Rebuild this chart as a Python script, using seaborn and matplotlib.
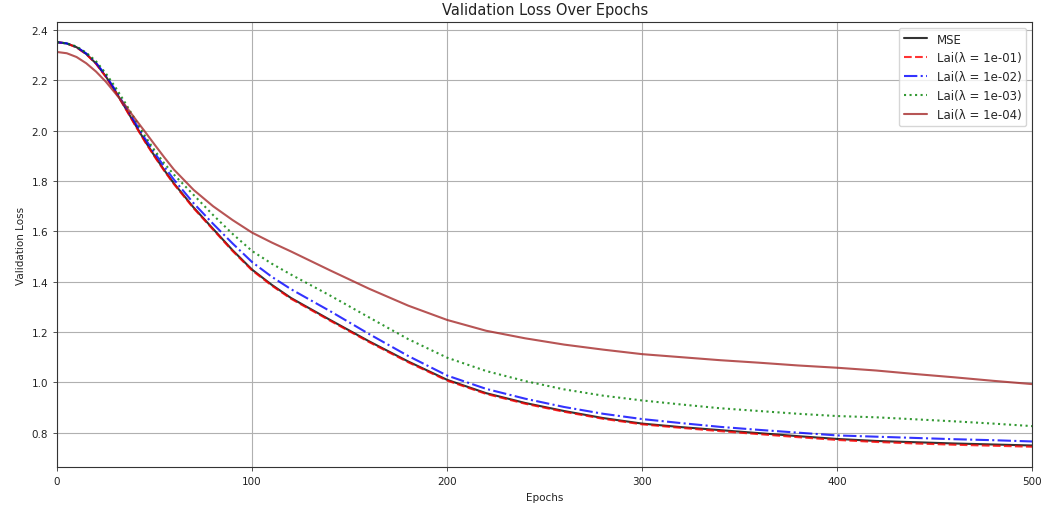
import matplotlib
matplotlib.use("Agg")
import matplotlib.pyplot as plt
import seaborn as sns
import pandas as pd

epochs = [0, 5, 10, 15, 20, 25, 30, 35, 40, 45, 50, 55, 60, 70, 80, 90, 100, 110, 120,
          140, 160, 180, 200, 220, 240, 260, 280, 300, 320, 340, 360, 380, 400,
          420, 440, 460, 480, 500]

mse = [2.352, 2.347, 2.332, 2.305, 2.267, 2.216, 2.156, 2.091, 2.025, 1.960, 1.900, 1.843, 1.790,
       1.695, 1.610, 1.525, 1.448, 1.388, 1.335, 1.248, 1.163, 1.083, 1.010, 0.957, 0.918,
       0.886, 0.858, 0.836, 0.822, 0.810, 0.798, 0.786, 0.775, 0.767, 0.762, 0.757, 0.753, 0.749]
lai_1e01 = [2.352, 2.347, 2.331, 2.304, 2.266, 2.214, 2.154, 2.089, 2.022, 1.957, 1.897, 1.840,
            1.787, 1.692, 1.607, 1.522, 1.445, 1.385, 1.332, 1.245, 1.160, 1.080, 1.007,
            0.954, 0.915, 0.883, 0.855, 0.833, 0.819, 0.806, 0.794, 0.782, 0.771, 0.763,
            0.757, 0.752, 0.748, 0.744]
lai_1e02 = [2.352, 2.347, 2.333, 2.307, 2.270, 2.220, 2.160, 2.097, 2.033, 1.970, 1.912, 1.857,
            1.805, 1.712, 1.630, 1.552, 1.478, 1.420, 1.370, 1.283, 1.192, 1.105, 1.027,
            0.974, 0.935, 0.902, 0.875, 0.854, 0.838, 0.823, 0.811, 0.800, 0.789, 0.784,
            0.779, 0.774, 0.770, 0.765]
lai_1e03 = [2.352, 2.347, 2.335, 2.310, 2.276, 2.228, 2.172, 2.110, 2.045, 1.980, 1.922, 1.870,
            1.825, 1.745, 1.665, 1.590, 1.522, 1.472, 1.428, 1.345, 1.258, 1.172, 1.098,
            1.045, 1.005, 0.972, 0.947, 0.928, 0.912, 0.897, 0.886, 0.875, 0.866, 0.861,
            0.853, 0.845, 0.836, 0.826]
lai_1e04 = [2.313, 2.308, 2.293, 2.268, 2.235, 2.195, 2.148, 2.100, 2.048, 1.997, 1.945, 1.894,
            1.845, 1.765, 1.700, 1.645, 1.595, 1.556, 1.520, 1.445, 1.372, 1.305, 1.248,
            1.205, 1.175, 1.150, 1.130, 1.112, 1.100, 1.088, 1.078, 1.067, 1.058, 1.047,
            1.033, 1.020, 1.006, 0.993]

labels = ["MSE", "Lai(λ = 1e-01)", "Lai(λ = 1e-02)", "Lai(λ = 1e-03)", "Lai(λ = 1e-04)"]
series = [mse, lai_1e01, lai_1e02, lai_1e03, lai_1e04]
colors = ["black", "red", "blue", "green", "brown"]
styles = ["-", "--", "-.", ":", "-"]

sns.set_style("ticks")
plt.rcParams["font.family"] = ["DejaVu Sans"]

fig = plt.figure(figsize=(10.43, 5.10), dpi=100)
ax = fig.add_axes([0.0547, 0.0824, 0.935, 0.8726])

for lab, vals, col, ls in zip(labels, series, colors, styles):
    df = pd.DataFrame({"Epochs": epochs, "Validation Loss": vals})
    sns.lineplot(data=df, x="Epochs", y="Validation Loss", ax=ax, color=col,
                 linestyle=ls, linewidth=1.5, alpha=0.8, label=lab)

ax.set_xlim(0, 500)
ax.grid(True, color="#b0b0b0", linewidth=0.8)
for s in ax.spines.values():
    s.set_color("#333333")
    s.set_linewidth(0.8)
ax.tick_params(labelsize=7.5, length=3, width=0.6, color="#333333", labelcolor="#222222")
ax.set_xlabel("Epochs", fontsize=7.5, color="#222222")
ax.set_ylabel("Validation Loss", fontsize=7.5, color="#222222")
ax.set_title("Validation Loss Over Epochs", fontsize=10.5, color="#222222")
leg = ax.legend(loc="upper right", fontsize=8.5, frameon=True, fancybox=True,
                framealpha=0.8, edgecolor="#cccccc")

fig.savefig("out.png", dpi=100)
